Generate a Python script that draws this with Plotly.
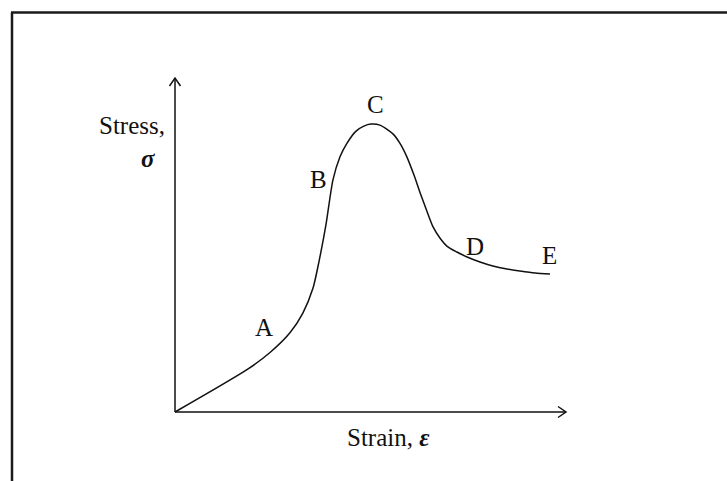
import plotly.graph_objects as go

# ---- data (schematic stress-strain curve, arbitrary units) ----
strain = [0, 1.87, 2.43, 2.94, 3.27, 3.53, 3.68, 3.86, 4.04, 4.22, 4.40,
          4.63, 4.83, 5.01, 5.24, 5.58, 5.75, 5.93, 6.11, 6.27, 6.45, 6.60, 6.78,
          6.96, 7.21, 7.47, 7.80, 8.13, 8.49, 8.82, 9.21, 9.59]
stress = [0, 1.29, 1.78, 2.37, 2.96, 3.71, 4.49, 5.60, 6.95, 7.64, 8.05,
          8.41, 8.56, 8.62, 8.59, 8.32, 8.05, 7.64, 7.10, 6.56, 5.99, 5.54, 5.20,
          4.96, 4.79, 4.64, 4.49, 4.37, 4.28, 4.22, 4.16, 4.13]

point_labels = ["A", "B", "C", "D", "E"]
point_label_x = [2.28, 3.68, 5.14, 7.67, 9.57]
point_label_y = [2.54, 6.95, 9.22, 4.97, 4.70]

x_axis_max = 10.0
y_axis_max = 10.0
x_title = "Strain, <b><i>ε</i></b>"
y_title_1 = "Stress,"
y_title_2 = "<b><i>σ</i></b>"

# ---- scale (units per pixel) ----
W, H = 727, 481
ox_px, oy_px = 175, 412
ux = 39.1   # px per unit x
uy = 33.4   # px per unit y
x_range = [-ox_px / ux, (W - ox_px) / ux]
y_range = [(oy_px - H) / uy, oy_px / uy]

ink = "#111111"
font = dict(family="Liberation Serif", size=25, color=ink)

fig = go.Figure()

# axes lines
fig.add_trace(go.Scatter(x=[0, x_axis_max], y=[0, 0], mode="lines",
                         line=dict(color=ink, width=1.5), hoverinfo="skip"))
fig.add_trace(go.Scatter(x=[0, 0], y=[0, y_axis_max], mode="lines",
                         line=dict(color=ink, width=1.5), hoverinfo="skip"))
# arrow heads (open chevrons), sized in pixels
hl, hw = 8, 5.5
fig.add_trace(go.Scatter(x=[x_axis_max - hl / ux, x_axis_max, x_axis_max - hl / ux],
                         y=[hw / uy, 0, -hw / uy], mode="lines",
                         line=dict(color=ink, width=1.5), hoverinfo="skip"))
fig.add_trace(go.Scatter(x=[-hw / ux, 0, hw / ux],
                         y=[y_axis_max - hl / uy, y_axis_max, y_axis_max - hl / uy], mode="lines",
                         line=dict(color=ink, width=1.5), hoverinfo="skip"))

# curve
fig.add_trace(go.Scatter(x=strain, y=stress, mode="lines",
                         line=dict(color=ink, width=1.5, shape="spline", smoothing=0.7),
                         hoverinfo="skip"))

# point labels
for t, lx, ly in zip(point_labels, point_label_x, point_label_y):
    fig.add_annotation(x=lx, y=ly, text=t, showarrow=False, font=font)

fig.add_annotation(x=5.45, y=-0.75, text=x_title, showarrow=False, font=font)
fig.add_annotation(x=-1.10, y=8.59, text=y_title_1, showarrow=False, font=font)
fig.add_annotation(x=-0.69, y=7.60, text=y_title_2, showarrow=False, font=font)

# frame (cropped box: left and top edges)
fig.add_shape(type="line", xref="paper", yref="paper",
              x0=12 / W, x1=12 / W, y0=0, y1=1 - 12.5 / H,
              line=dict(color="#1a1a1a", width=2.5))
fig.add_shape(type="line", xref="paper", yref="paper",
              x0=11 / W, x1=1, y0=1 - 12.5 / H, y1=1 - 12.5 / H,
              line=dict(color="#1a1a1a", width=2.5))

fig.update_xaxes(range=x_range, visible=False, showgrid=False, zeroline=False)
fig.update_yaxes(range=y_range, visible=False, showgrid=False, zeroline=False)
fig.update_layout(width=W, height=H, margin=dict(l=0, r=0, t=0, b=0, pad=0),
                  paper_bgcolor="white", plot_bgcolor="white", showlegend=False)

fig.write_html("out.html", config={"displayModeBar": False},
               post_script="document.body.style.margin='0';document.body.style.overflow='hidden';")
